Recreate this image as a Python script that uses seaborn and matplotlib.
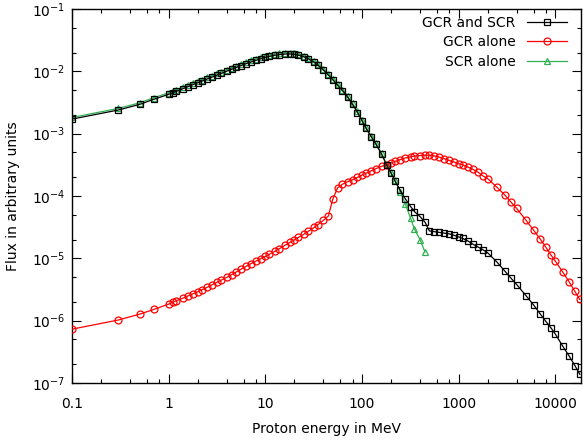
import numpy as np
import pandas as pd
import seaborn as sns
import matplotlib
matplotlib.use('Agg')
import matplotlib.pyplot as plt
from matplotlib.ticker import LogLocator, NullFormatter, FuncFormatter, FixedLocator

# proton energy grid (MeV)
energy = [0.1, 0.3, 0.5, 0.7,
          1, 1.1, 1.2, 1.4, 1.6, 1.8, 2, 2.2, 2.5, 2.8, 3.2, 3.5, 4, 4.5, 5, 5.6, 6.3, 7.1, 8, 9,
          10, 11, 12.5, 14, 16, 18, 20, 22, 25, 28, 32, 35, 40, 45, 50, 56, 63, 71, 80, 90,
          100, 110, 125, 140, 160, 180, 200, 220, 250, 280, 320, 350, 400, 450, 500, 560, 630, 710, 800, 900,
          1000, 1100, 1250, 1400, 1600, 1800, 2000, 2500, 3000, 3500, 4000, 5000, 6000, 7000, 8000, 9000,
          10000, 12000, 14000, 16000, 18000]

# log10 of flux
gcr_scr_log = [-2.766, -2.621, -2.53, -2.449,
               -2.369, -2.344, -2.320, -2.279, -2.243, -2.211, -2.183, -2.158, -2.123, -2.093,
               -2.057, -2.033, -1.997, -1.966, -1.937, -1.908, -1.878, -1.850, -1.823, -1.798,
               -1.777, -1.760, -1.742, -1.730, -1.722, -1.721, -1.727, -1.740, -1.765, -1.80,
               -1.855, -1.90, -1.98, -2.06, -2.135, -2.22, -2.31, -2.41, -2.53, -2.66,
               -2.79, -2.91, -3.05, -3.17, -3.33, -3.50, -3.63, -3.76, -3.91, -4.04,
               -4.17, -4.25, -4.33, -4.42, -4.56, -4.572, -4.583, -4.595, -4.607, -4.63,
               -4.655, -4.68, -4.72, -4.77, -4.82, -4.865, -4.91, -5.06, -5.20, -5.32,
               -5.42, -5.60, -5.75, -5.89, -6.01, -6.11,
               -6.21, -6.41, -6.57, -6.72, -6.86]

gcr_log = [-6.136, -5.99, -5.896, -5.82,
           -5.735, -5.705, -5.68, -5.64, -5.60, -5.565, -5.535, -5.505, -5.465, -5.425,
           -5.38, -5.35, -5.305, -5.26, -5.22, -5.175, -5.13, -5.085, -5.045, -5.005,
           -4.97, -4.935, -4.89, -4.845, -4.79, -4.745, -4.705, -4.665, -4.615, -4.565,
           -4.505, -4.46, -4.39, -4.32, -4.05, -3.87, -3.81, -3.77, -3.74, -3.70,
           -3.665, -3.635, -3.595, -3.56, -3.525, -3.495, -3.47, -3.445, -3.415, -3.39,
           -3.37, -3.36, -3.35, -3.345, -3.345, -3.355, -3.375, -3.40, -3.43, -3.455,
           -3.48, -3.50, -3.535, -3.57, -3.62, -3.68, -3.72, -3.86, -3.98, -4.10,
           -4.20, -4.39, -4.55, -4.69, -4.82, -4.94,
           -5.04, -5.22, -5.38, -5.53, -5.66]

# SCR alone stops at 450 MeV
scr_log = [-2.74, -2.595, -2.505, -2.424,
           -2.344, -2.319, -2.295, -2.254, -2.218, -2.186, -2.158, -2.133, -2.098, -2.068,
           -2.032, -2.008, -1.972, -1.941, -1.912, -1.883, -1.853, -1.825, -1.798, -1.773,
           -1.752, -1.735, -1.717, -1.705, -1.698, -1.698, -1.707, -1.722, -1.748, -1.783,
           -1.838, -1.883, -1.963, -2.043, -2.118, -2.203, -2.293, -2.393, -2.513, -2.643,
           -2.775, -2.895, -3.035, -3.155, -3.315, -3.485, -3.615, -3.745, -3.93, -4.12,
           -4.36, -4.53, -4.70, -4.90]

x_ticks = [0.1, 1, 10, 100, 1000, 10000]
y_ticks = [1e-7, 1e-6, 1e-5, 1e-4, 1e-3, 1e-2, 1e-1]

labels = ['GCR and SCR', 'GCR alone', 'SCR alone']
colors = ['#000000', '#ff0000', '#30b050']
markers = ['s', 'o', '^']
msizes = [4.6, 5.0, 4.2]
zorders = [3.2, 2.6, 2.4]

plt.rcParams['font.family'] = ['DejaVu Sans']
plt.rcParams['font.size'] = 10

fig = plt.figure(figsize=(5.83, 4.45), dpi=100)
ax = fig.add_axes([0.1235, 0.1393, 0.873, 0.8404])

series = [gcr_scr_log, gcr_log, scr_log]
for lab, col, mk, ms, zo, ylog in zip(labels, colors, markers, msizes, zorders, series):
    df = pd.DataFrame({'E': energy[:len(ylog)], 'flux': np.power(10.0, ylog)})
    sns.lineplot(data=df, x='E', y='flux', ax=ax, color=col, label=lab,
                 marker=mk, markersize=ms, markerfacecolor='none',
                 markeredgecolor=col, markeredgewidth=0.9, linewidth=0.9, zorder=zo)

ax.set_xscale('log')
ax.set_yscale('log')
ax.set_xlim(0.1, 18500)
ax.set_ylim(1e-7, 1e-1)

ax.xaxis.set_major_locator(FixedLocator(x_ticks))
ax.xaxis.set_minor_locator(LogLocator(base=10, subs=(2, 4, 6, 8), numticks=20))
ax.xaxis.set_minor_formatter(NullFormatter())
ax.xaxis.set_major_formatter(FuncFormatter(lambda v, p: '%g' % v))
ax.yaxis.set_major_locator(FixedLocator(y_ticks))
ax.yaxis.set_major_formatter(FuncFormatter(lambda v, p: r'$10^{%d}$' % round(np.log10(v))))
ax.yaxis.set_minor_locator(LogLocator(base=10, subs=(2, 5), numticks=20))
ax.yaxis.set_minor_formatter(NullFormatter())

ax.tick_params(which='both', direction='in', top=True, right=True, width=0.8)
ax.tick_params(which='major', length=6.5)
ax.tick_params(which='minor', length=3.2)
ax.tick_params(axis='x', which='major', pad=10)
ax.tick_params(axis='y', which='major', pad=5)
for sp in ax.spines.values():
    sp.set_linewidth(1.0)

ax.set_xlabel('Proton energy in MeV', labelpad=8)
ax.set_ylabel('Flux in arbitrary units', labelpad=8)

ax.legend(loc='upper right', bbox_to_anchor=(0.9835, 0.997), borderaxespad=0,
          markerfirst=False, frameon=False, handlelength=2.9,
          handletextpad=0.8, labelspacing=0.4, fontsize=10)

plt.savefig('out.png', dpi=100)
